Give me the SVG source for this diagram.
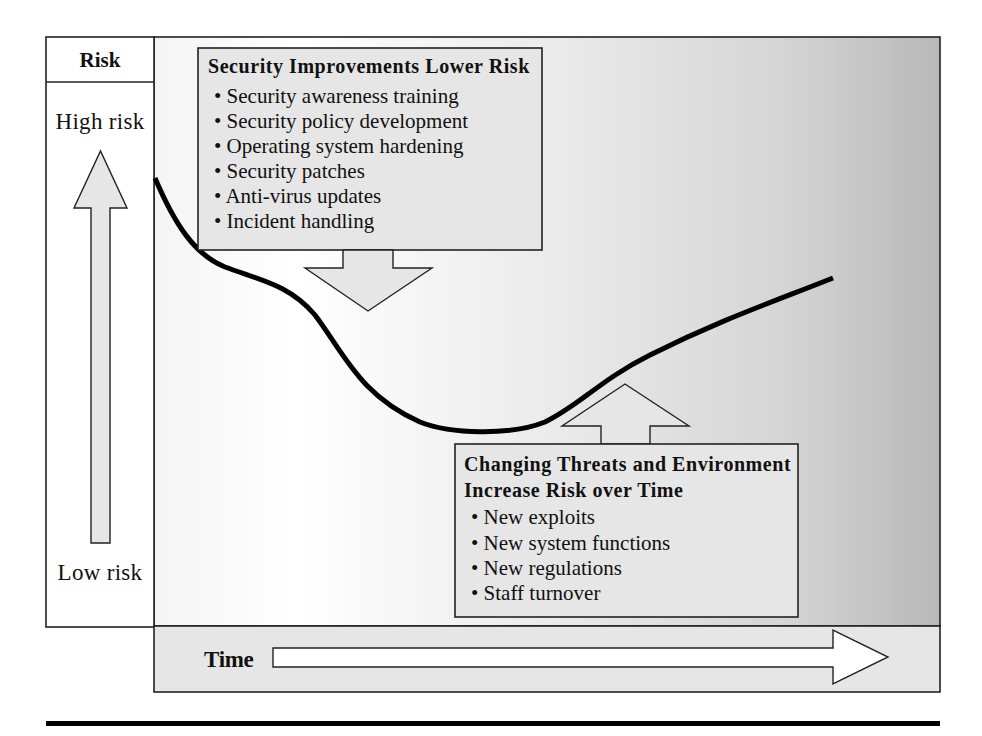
<svg xmlns="http://www.w3.org/2000/svg" width="982" height="736" viewBox="0 0 982 736">
  <defs>
    <linearGradient id="bg" x1="154" y1="0" x2="940" y2="0" gradientUnits="userSpaceOnUse">
      <stop offset="0" stop-color="#f4f4f4"/>
      <stop offset="0.18" stop-color="#ffffff"/>
      <stop offset="0.5" stop-color="#ebebeb"/>
      <stop offset="0.8" stop-color="#d5d5d5"/>
      <stop offset="1" stop-color="#b8b8b8"/>
    </linearGradient>
    <style>
      .frame { stroke: #222; stroke-width: 1.6; }
      .box { fill: #e6e6e6; stroke: #222; stroke-width: 1.6; }
      .arrow { fill: #e6e6e6; stroke: #222; stroke-width: 1.4; stroke-linejoin: miter; }
      .t { font-family: "Liberation Serif", "Times New Roman", serif; fill: #111; }
      .title { font-weight: bold; font-size: 20px; letter-spacing: 0.55px; }
      .item { font-size: 21px; }
      .lbl { font-size: 23px; letter-spacing: 0.3px; }
    </style>
  </defs>

  <rect width="982" height="736" fill="#ffffff"/>

  <g id="plot-area">
    <rect x="154" y="37" width="786" height="589" fill="url(#bg)" class="frame"/>
  </g>

  <g id="risk-axis">
    <rect x="46" y="37" width="108" height="590" fill="#ffffff" class="frame"/>
    <line x1="46" y1="82" x2="154" y2="82" class="frame"/>
    <text x="100" y="67" text-anchor="middle" class="t" font-weight="bold" font-size="21">Risk</text>
    <text x="100" y="129" text-anchor="middle" class="t lbl">High risk</text>
    <polygon points="91,543 91,208 74,208 100.5,151 127,208 110,208 110,543" class="arrow"/>
    <text x="100" y="580" text-anchor="middle" class="t lbl">Low risk</text>
  </g>

  <g id="time-axis">
    <rect x="154" y="626" width="786" height="66" fill="#e6e6e6" class="frame"/>
    <text x="204" y="667" class="t" font-weight="bold" font-size="23" letter-spacing="-0.3">Time</text>
    <polygon points="273,648 833,648 833,630 888,657 833,684 833,667 273,667" fill="#ffffff" stroke="#222" stroke-width="1.4"/>
  </g>

  <g id="connectors">
    <path d="M155,178 C175,225 195,255 225,267 C260,280 290,285 315,315 C345,355 360,395 420,422 C450,434 510,436 545,422 C580,405 600,380 650,355 C720,320 770,303 833,278" fill="none" stroke="#000" stroke-width="5"/>
  </g>

  <g id="improvements">
    <rect x="198" y="48" width="344" height="202" class="box"/>
    <polygon points="343,250 343,268 305,268 368,311 432,268 393,268 393,250" class="arrow"/>
    <text x="208" y="73" class="t title">Security Improvements Lower Risk</text>
    <text class="t item">
      <tspan x="214" y="103">• Security awareness training</tspan>
      <tspan x="214" y="128">• Security policy development</tspan>
      <tspan x="214" y="153">• Operating system hardening</tspan>
      <tspan x="214" y="178">• Security patches</tspan>
      <tspan x="214" y="203">• Anti-virus updates</tspan>
      <tspan x="214" y="228">• Incident handling</tspan>
    </text>
  </g>

  <g id="threats">
    <polygon points="601,444 601,426 562,426 625,384 689,426 650,426 650,444" class="arrow"/>
    <rect x="455" y="444" width="343" height="173" class="box"/>
    <text class="t title">
      <tspan x="464" y="471">Changing Threats and Environment</tspan>
      <tspan x="464" y="497">Increase Risk over Time</tspan>
    </text>
    <text class="t item">
      <tspan x="471" y="524">• New exploits</tspan>
      <tspan x="471" y="550">• New system functions</tspan>
      <tspan x="471" y="575">• New regulations</tspan>
      <tspan x="471" y="600">• Staff turnover</tspan>
    </text>
  </g>

  <g id="rule">
    <rect x="46" y="721" width="894" height="5" fill="#000"/>
  </g>
</svg>
